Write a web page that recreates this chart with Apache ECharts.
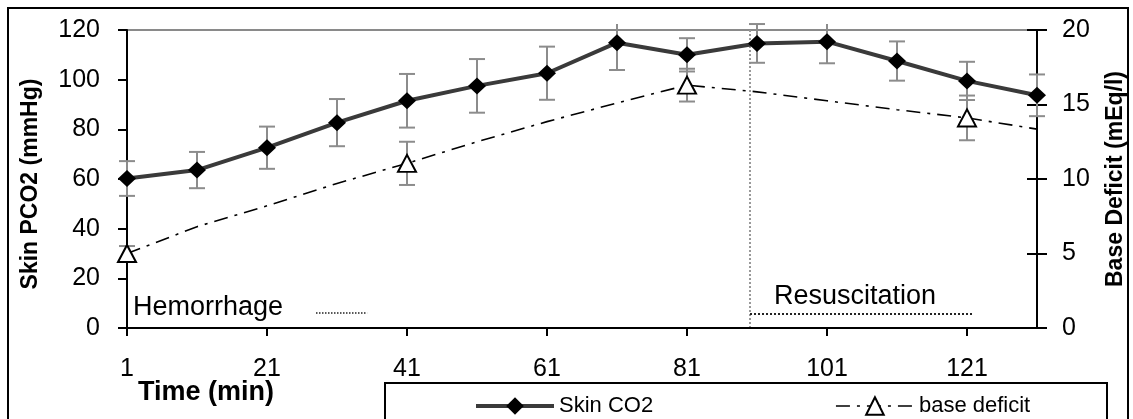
<!DOCTYPE html>
<html>
<head>
<meta charset="utf-8">
<title>Skin PCO2 and base deficit</title>
<script src="https://cdn.jsdelivr.net/npm/echarts@6/dist/echarts.min.js"></script>
<style>
    html, body { margin: 0; padding: 0; background: #fff; }
    #chart { width: 1133px; height: 419px; }
</style>
</head>
<body>
<div id="chart"></div>
<script>
(function(){
    'use strict';

    // data
    var times = [1, 11, 21, 31, 41, 51, 61, 71, 81, 91, 101, 111, 121, 131];
    var skinCO2 = [60.2, 63.6, 72.6, 82.7, 91.5, 97.5, 102.6, 114.9, 110, 114.6, 115.3, 107.5, 99.5, 93.7];
    var skinCO2Err = [7, 7.3, 8.5, 9.5, 10.8, 10.8, 10.7, 11, 6.7, 7.8, 8.7, 7.9, 7.7, 8.4];
    var baseDeficit = [5.0, 6.8, 8.2, 9.7, 11.05, 12.5, 13.85, 15.1, 16.3, 15.85, 15.25, 14.65, 14.1, 13.35];
    var bdMarkedTimes = [1, 41, 81, 121];
    var bdErr = [0.5, 1.45, 1.1, 1.5];
    var xTicks = [1, 21, 41, 61, 81, 101, 121];
    var resuscitationStart = 90;
    var resuscitationEnd = 122;
    var hemorrhageBar = [28, 35.3];

    var FONT = '"Liberation Sans", Arial, sans-serif';

    var skinData = [];
    var skinErrData = [];
    for (var i = 0; i < times.length; i++){
        skinData.push([times[i], skinCO2[i]]);
        skinErrData.push([times[i], skinCO2[i], skinCO2Err[i]]);
    }

    var bdData = [];
    var bdErrData = [];
    for (var j = 0; j < times.length; j++){
        var k = bdMarkedTimes.indexOf(times[j]);
        bdData.push({value: [times[j], baseDeficit[j]], symbol: k < 0 ? 'none' : 'triangle'});
        if (k >= 0) bdErrData.push([times[j], baseDeficit[j], bdErr[k]]);
    }

    function renderErrorBar(params, api){
        var x = api.value(0), y = api.value(1), e = api.value(2);
        var hi = api.coord([x, y + e]);
        var lo = api.coord([x, y - e]);
        var ceiling = params.coordSys.y - 6;
        var clipped = hi[1] < ceiling;
        var top = clipped ? ceiling : hi[1];
        var w = 8;
        var style = {stroke: '#8c8c8c', lineWidth: 2};
        var children = [
            {type: 'line', shape: {x1: lo[0], y1: lo[1], x2: lo[0], y2: top}, style: style},
            {type: 'line', shape: {x1: lo[0] - w, y1: lo[1], x2: lo[0] + w, y2: lo[1]}, style: style}
        ];
        if (!clipped){
            children.push({type: 'line', shape: {x1: hi[0] - w, y1: hi[1], x2: hi[0] + w, y2: hi[1]}, style: style});
        }
        return {type: 'group', children: children};
    }

    var axisLine = {show: true, lineStyle: {color: '#000', width: 2}};
    var axisTick = {show: true, length: 9, lineStyle: {color: '#000', width: 2}};

    function dotted(color, width){
        return {color: color, width: width, type: 'dotted'};
    }

    var option = {
        animation: false,
        backgroundColor: '#fff',
        grid: {left: 127, right: 96, top: 30, bottom: 91},
        xAxis: {
            type: 'value', min: 1, max: 131,
            axisLine: axisLine,
            axisTick: {show: true, length: 8, lineStyle: {color: '#000', width: 2}, customValues: xTicks},
            axisLabel: {color: '#000', fontFamily: FONT, fontSize: 25, margin: 29, customValues: xTicks},
            splitLine: {show: false}
        },
        yAxis: [
            {
                type: 'value', min: 0, max: 120, interval: 20, position: 'left',
                axisLine: axisLine, axisTick: axisTick,
                axisLabel: {color: '#000', fontFamily: FONT, fontSize: 25, margin: 27},
                splitLine: {show: false}
            },
            {
                type: 'value', min: 0, max: 20, interval: 5, position: 'right',
                axisLine: axisLine, axisTick: {show: true, length: 10, lineStyle: {color: '#000', width: 2}},
                axisLabel: {color: '#000', fontFamily: FONT, fontSize: 25, margin: 25},
                splitLine: {show: false}
            },
            {
                type: 'value', min: 0, max: 20, interval: 5, position: 'right',
                axisLine: {show: false},
                axisTick: {show: true, inside: true, length: 10, lineStyle: {color: '#000', width: 2}},
                axisLabel: {show: false},
                splitLine: {show: false}
            }
        ],
        legend: {
            left: 469, top: 390,
            itemWidth: 78, itemHeight: 22, itemGap: 182,
            textStyle: {color: '#000', fontFamily: FONT, fontSize: 22},
            data: [
                {name: 'Skin CO2', lineStyle: {color: '#3a3a3a', width: 4}},
                {name: 'base deficit', lineStyle: {color: '#000', width: 1.6}}
            ]
        },
        graphic: [
            {type: 'rect', silent: true, z: -10, shape: {x: 8, y: 8, width: 1120, height: 440},
                style: {fill: null, stroke: '#000', lineWidth: 2}},
            {type: 'rect', silent: true, z: -5, shape: {x: 385, y: 383, width: 722, height: 60},
                style: {fill: '#fff', stroke: '#000', lineWidth: 2}},
            {type: 'text', x: 31, y: 184, rotation: Math.PI / 2,
                style: {text: 'Skin PCO2 (mmHg)', font: 'bold 23px ' + FONT, fill: '#000', align: 'center', verticalAlign: 'middle'}},
            {type: 'text', x: 1116, y: 179, rotation: Math.PI / 2,
                style: {text: 'Base Deficit (mEq/l)', font: 'bold 23px ' + FONT, fill: '#000', align: 'center', verticalAlign: 'middle'}},
            {type: 'text', x: 138, y: 393,
                style: {text: 'Time (min)', font: 'bold 27px ' + FONT, fill: '#000', align: 'left', verticalAlign: 'middle'}},
            {type: 'text', x: 133, y: 308,
                style: {text: 'Hemorrhage', font: '27px ' + FONT, fill: '#000', align: 'left', verticalAlign: 'middle'}},
            {type: 'text', x: 774, y: 297,
                style: {text: 'Resuscitation', font: '27px ' + FONT, fill: '#000', align: 'left', verticalAlign: 'middle'}}
        ],
        series: [
            {
                name: 'skin err', type: 'custom', xAxisIndex: 0, yAxisIndex: 0, z: 1,
                renderItem: renderErrorBar, data: skinErrData, silent: true
            },
            {
                name: 'bd err', type: 'custom', xAxisIndex: 0, yAxisIndex: 1, z: 1,
                renderItem: renderErrorBar, data: bdErrData, silent: true
            },
            {
                name: 'base deficit', type: 'line', xAxisIndex: 0, yAxisIndex: 1, z: 3,
                symbol: 'triangle', symbolSize: [18, 17], showAllSymbol: true,
                itemStyle: {color: '#fff', borderColor: '#000', borderWidth: 2},
                lineStyle: {color: '#000', width: 1.6, type: [14, 7, 3, 7]},
                data: bdData
            },
            {
                name: 'Skin CO2', type: 'line', xAxisIndex: 0, yAxisIndex: 0, z: 4,
                symbol: 'diamond', symbolSize: [18, 17],
                itemStyle: {color: '#000'},
                lineStyle: {color: '#3a3a3a', width: 4},
                data: skinData,
                markLine: {
                    silent: true, symbol: ['none', 'none'], label: {show: false}, z: 0,
                    data: [
                        {yAxis: 120, lineStyle: {color: '#8a8a8a', width: 2, type: 'solid'}},
                        {xAxis: resuscitationStart, lineStyle: dotted('#999', 2)},
                        [
                            {coord: [resuscitationStart, 5.6], lineStyle: dotted('#222', 2)},
                            {coord: [resuscitationEnd, 5.6], lineStyle: dotted('#222', 2)}
                        ],
                        [
                            {coord: [hemorrhageBar[0], 6], lineStyle: dotted('#222', 1.5)},
                            {coord: [hemorrhageBar[1], 6], lineStyle: dotted('#222', 1.5)}
                        ]
                    ]
                }
            }
        ]
    };

    var chart = echarts.init(document.getElementById('chart'));
    chart.setOption(option);
})();
</script>
</body>
</html>
